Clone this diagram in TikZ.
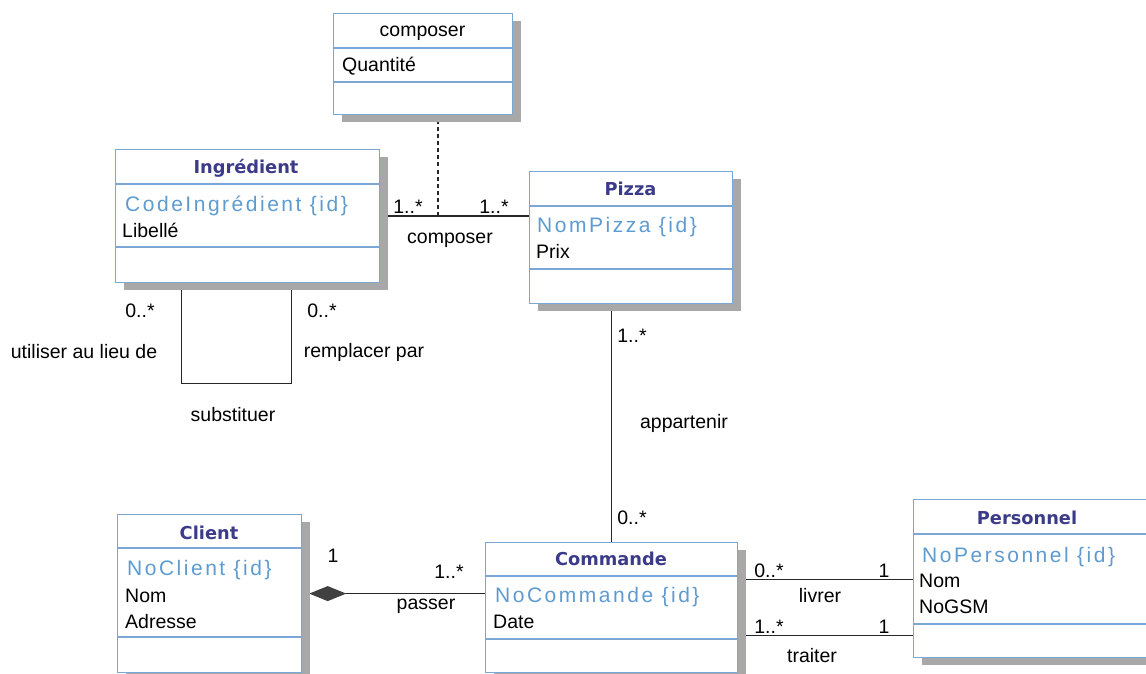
\documentclass[tikz,border=0pt]{standalone}
\usepackage{fontspec}
\setmainfont{Liberation Sans}
\newfontfamily\titlefont{DejaVu Sans}
\newfontfamily\idfont[LetterSpace=12]{Liberation Sans}
\usetikzlibrary{shadows,arrows.meta,backgrounds}
\definecolor{bordc}{HTML}{7BA7D6}
\definecolor{titc}{HTML}{3B3B8A}
\definecolor{idc}{HTML}{5E9BD0}
\definecolor{shc}{HTML}{A8A8A8}
\begin{document}
\begin{tikzpicture}[x=1pt,y=-1pt,
  cls/.style={draw=bordc, line width=1.2pt, fill=white, inner sep=0pt, anchor=north west,
    drop shadow={shadow xshift=8pt, shadow yshift=-7pt, fill=shc, opacity=1}},
  sepl/.style={draw=bordc, line width=1.2pt},
  ttl/.style={font=\titlefont\bfseries\fontsize{17.8}{20}\selectfont, text=titc, anchor=base, inner sep=0pt},
  ttlplain/.style={font=\fontsize{19.5}{23}\selectfont, anchor=base, inner sep=0pt},
  idt/.style={font=\idfont\fontsize{21}{25}\selectfont, text=idc, anchor=base west, inner sep=0pt},
  att/.style={font=\fontsize{19.5}{23}\selectfont, anchor=base west, inner sep=0pt},
  lbl/.style={font=\fontsize{19.5}{23}\selectfont, inner sep=0pt},
  conn/.style={line width=1.4pt, draw=black!85}]
\useasboundingbox (0,0) rectangle (1146,674);

% ---- classes ----
\node[cls, minimum width=179pt, minimum height=101pt] (comp) at (333,13) {};
\draw[sepl] (comp.north west) ++(0,35) -- ++(179,0);
\draw[sepl] (comp.north west) ++(0,69) -- ++(179,0);
\node[ttlplain] (compT) at (422.5,37) {composer};
\node[att] (compA) at (342,72) {Quantité};

\node[cls, minimum width=264pt, minimum height=133pt] (ing) at (115,149) {};
\draw[sepl] (ing.north west) ++(0,35) -- ++(264,0);
\draw[sepl] (ing.north west) ++(0,98) -- ++(264,0);
\node[ttl] (ingT) at (246,173) {Ingrédient};
\node[idt] (ingI) at (125,211) {CodeIngrédient {\{}id{\}}};
\node[att] (ingA) at (122,237) {Libellé};

\node[cls, minimum width=203pt, minimum height=132pt] (pizza) at (529,171) {};
\draw[sepl] (pizza.north west) ++(0,35) -- ++(203,0);
\draw[sepl] (pizza.north west) ++(0,98) -- ++(203,0);
\node[ttl] (pizzaT) at (630.5,195) {Pizza};
\node[idt] (pizzaI) at (537,232) {NomPizza {\{}id{\}}};
\node[att] (pizzaA) at (536,258) {Prix};

\node[cls, minimum width=184pt, minimum height=158pt] (client) at (117,514) {};
\draw[sepl] (client.north west) ++(0,34) -- ++(184,0);
\draw[sepl] (client.north west) ++(0,123) -- ++(184,0);
\node[ttl] (clientT) at (209,539) {Client};
\node[idt] (clientI) at (127,575) {NoClient {\{}id{\}}};
\node[att] (clientA) at (125,602) {Nom};
\node[att] (clientB) at (125,628) {Adresse};

\node[cls, minimum width=252pt, minimum height=130pt] (cmd) at (485,542) {};
\draw[sepl] (cmd.north west) ++(0,34) -- ++(252,0);
\draw[sepl] (cmd.north west) ++(0,97) -- ++(252,0);
\node[ttl] (cmdT) at (611,565) {Commande};
\node[idt] (cmdI) at (495,602) {NoCommande {\{}id{\}}};
\node[att] (cmdA) at (493,628) {Date};

\node[cls, minimum width=235pt, minimum height=158pt] (pers) at (913,499) {};
\draw[sepl] (pers.north west) ++(0,35) -- ++(235,0);
\draw[sepl] (pers.north west) ++(0,125) -- ++(235,0);
\node[ttl] (persT) at (1027,524) {Personnel};
\node[idt] (persI) at (922,562) {NoPersonnel {\{}id{\}}};
\node[att] (persA) at (919,587) {Nom};
\node[att] (persB) at (919,613) {NoGSM};

% ---- connectors ----
\begin{pgfonlayer}{background}
\fill[white] (0,0) rectangle (1146,674);
\coordinate (mid) at (438,215.5);
\draw[conn] (ing.east) -- (ing.east -| pizza.west);
\draw[conn, dash pattern=on 4pt off 3pt] (mid) -- (mid |- comp.south);
\draw[conn] ([xshift=-66pt]ing.south) -- ++(0,100) -| ([xshift=44pt]ing.south);
\draw[conn] (cmd.north) -- (cmd.north |- pizza.south);
\draw[conn, {Diamond[length=37pt,width=15pt,color=black!75]}-] ([xshift=7pt]client.east) -- (client.east -| cmd.west);
\draw[conn] ([xshift=8pt,yshift=28pt]cmd.east) -- ([yshift=28pt]cmd.east -| pers.west);
\draw[conn] ([xshift=8pt,yshift=-28pt]cmd.east) -- ([yshift=-28pt]cmd.east -| pers.west);
\end{pgfonlayer}

% ---- labels ----
\node[lbl] (l1) at (408,207) {1..*};
\node[lbl] (l2) at (494,207) {1..*};
\node[lbl] (l3) at (450,240) {composer};
\node[lbl] (l4) at (140,311) {0..*};
\node[lbl] (l5) at (322,311) {0..*};
\node[lbl] (l6) at (84,352) {utiliser au lieu de};
\node[lbl] (l7) at (364,352) {remplacer par};
\node[lbl] (l8) at (233,415) {substituer};
\node[lbl] (l9) at (632,336) {1..*};
\node[lbl] (l10) at (684,423) {appartenir};
\node[lbl] (l11) at (632,518) {0..*};
\node[lbl] (l12) at (333,556) {1};
\node[lbl] (l13) at (449,572) {1..*};
\node[lbl] (l14) at (426,606) {passer};
\node[lbl] (l15) at (769,571) {0..*};
\node[lbl] (l16) at (884,571) {1};
\node[lbl] (l17) at (820,596) {livrer};
\node[lbl] (l18) at (769,627) {1..*};
\node[lbl] (l19) at (884,627) {1};
\node[lbl] (l20) at (812,656) {traiter};
\end{tikzpicture}
\end{document}
